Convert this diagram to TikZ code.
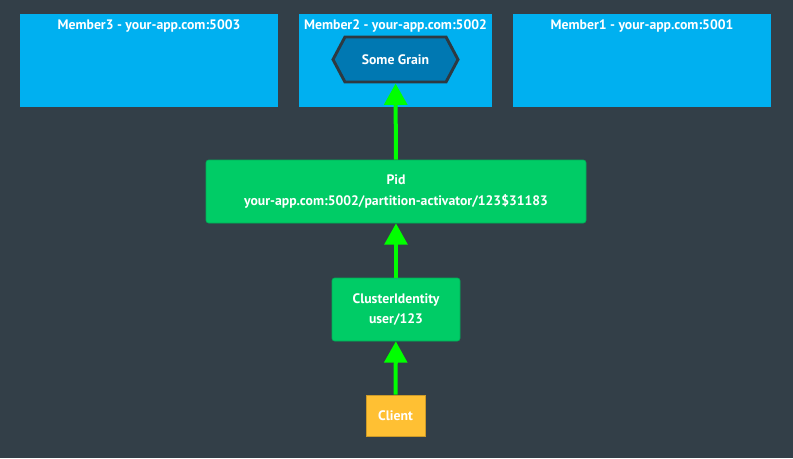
\documentclass[tikz,border=0pt]{standalone}
\usepackage{fontspec}
\setmainfont{PT Sans}
\usepackage{tikz}
\usetikzlibrary{shapes.symbols, arrows.meta, positioning}

\definecolor{fundo}{RGB}{51,63,72}
\definecolor{azulmembro}{RGB}{0,176,240}
\definecolor{azulgrao}{RGB}{0,120,178}
\definecolor{verdecaixa}{RGB}{0,204,102}
\definecolor{verdeseta}{RGB}{0,255,0}
\definecolor{laranja}{RGB}{255,192,51}

\begin{document}
\begin{tikzpicture}[
            x=0.75pt, y=-0.75pt,
            font=\bfseries\fontsize{10.3}{15.5}\selectfont, text=white,
            caixa_membro/.style={
                rectangle, fill=azulmembro, inner sep=0pt
            },
            titulo/.style={inner sep=0pt, anchor=north},
            caixa_grao/.style={
                signal, signal to=east and west, signal pointer angle=124,
                draw=fundo!90!black, line width=2.2pt, fill=azulgrao,
                minimum width=93.75pt, minimum height=33.75pt, inner sep=0pt
            },
            caixa_id/.style={
                draw=verdecaixa!85!black, line width=0.5pt, rectangle, rounded corners=2pt,
                fill=verdecaixa, minimum height=47.25pt, align=center
            },
            caixa_cliente/.style={
                draw=laranja!80!black, line width=0.5pt, rectangle, fill=laranja,
                minimum width=44.25pt, minimum height=30.75pt
            },
            seta/.style={-{Triangle[length=16pt, width=17pt]}, line width=3pt, draw=verdeseta}
        ]
            % Fundo
            \fill[fundo] (0,0) rectangle (793,458);
            \useasboundingbox (0,0) rectangle (793,458);

            % --- Membros do cluster ---
            \node[caixa_membro, minimum width=193.5pt, minimum height=69.75pt] (m3) at (149,60.5) {};
            \node[caixa_membro, minimum width=144.75pt, minimum height=69.75pt] (m2) at (395.5,60.5) {};
            \node[caixa_membro, minimum width=193.5pt, minimum height=69.75pt] (m1) at (642,60.5) {};
            \node[titulo, below=4.5pt of m3.north] (m3_label) {Member3 - your-app.com:5003};
            \node[titulo, below=4.5pt of m2.north] (m2_label) {Member2 - your-app.com:5002};
            \node[titulo, below=4.5pt of m1.north] (m1_label) {Member1 - your-app.com:5001};

            % --- Grão ativado ---
            \node[caixa_grao] (grao) at (395.5,59.5) {Some Grain};

            % --- Pid e identidade ---
            \node[caixa_id, minimum width=285pt] (pid) at (396,191.5) {Pid\\your-app.com:5002/partition-activator/123\$31183};
            \node[caixa_id, minimum width=96pt] (ident) at (396,309.5) {ClusterIdentity\\user/123};

            % --- Cliente ---
            \node[caixa_cliente] (cliente) at (395.5,415.5) {Client};

            % Setas
            \draw[seta] (cliente) -- (ident);
            \draw[seta] (ident) -- (pid);
            \draw[seta] (pid) -- (grao);

        \end{tikzpicture}
\end{document}
